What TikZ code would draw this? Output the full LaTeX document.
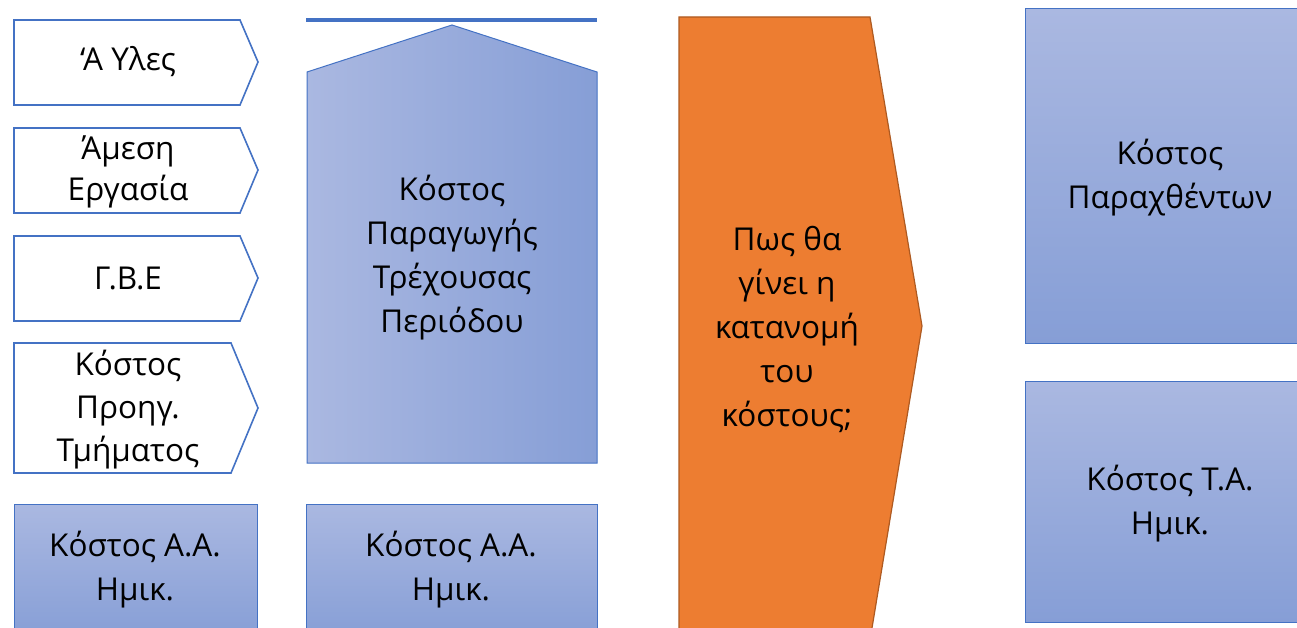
\documentclass[tikz,border=0pt]{standalone}
\usepackage{fontspec}
\setmainfont{Open Sans}
\definecolor{bborder}{RGB}{68,114,196}
\definecolor{blight}{RGB}{170,184,225}
\definecolor{bdark}{RGB}{134,158,214}
\definecolor{orfill}{RGB}{237,125,49}
\definecolor{orborder}{RGB}{174,90,33}
\tikzset{
  whitechev/.style={draw=bborder, line width=1.6pt, fill=white},
  vbox/.style={draw=bborder, line width=1pt, top color=blight, bottom color=bdark},
  hbox/.style={draw=bborder, line width=1pt, left color=blight, right color=bdark},
  orchev/.style={draw=orborder, line width=1.2pt, fill=orfill},
  txt/.style={align=center, font=\fontsize{31.5}{44}\selectfont, text=black, inner sep=0pt}
}
\begin{document}
\begin{tikzpicture}[x=1pt,y=-1pt]
\clip (0,0) rectangle (1297,628);
\fill[white] (0,0) rectangle (1297,628);
% left chevrons
\path[whitechev] (14,20) -- (240,20) -- (258,62) -- (240,105) -- (14,105) -- cycle;
\path[whitechev] (14,128) -- (240,128) -- (258,170) -- (240,213) -- (14,213) -- cycle;
\path[whitechev] (14,236) -- (240,236) -- (258,278) -- (240,321) -- (14,321) -- cycle;
\path[whitechev] (14,343) -- (231,343) -- (258,408) -- (231,473) -- (14,473) -- cycle;
\node[txt] (t1) at (128,62) {‘Α Υλες};
\node[txt, font=\fontsize{31.5}{41}\selectfont] (t2) at (128,172) {Άμεση\\Εργασία};
\node[txt] (t3) at (128,278) {Γ.Β.Ε};
\node[txt, font=\fontsize{31.5}{43}\selectfont] (t4) at (128,410) {Κόστος\\Προηγ.\\Τμήματος};
% bottom boxes
\path[vbox] (14,504) rectangle (257,640);
\node[txt] (b1) at (135,570) {Κόστος Α.Α.\\Ημικ.};
\path[vbox] (306,504) rectangle (597,640);
\node[txt] (b2) at (451,570) {Κόστος Α.Α.\\Ημικ.};
% top line and up pentagon
\draw[draw=bborder, line width=4pt] (306,20.5) -- (597,20.5);
\path[hbox] (307,72) -- (452,25) -- (597,72) -- (597,463) -- (307,463) -- cycle;
\node[txt] (p) at (452,258) {Κόστος\\Παραγωγής\\Τρέχουσας\\Περιόδου};
% orange chevron
\path[orchev] (679,17) -- (870,17) -- (922,326) -- (870,640) -- (679,640) -- cycle;
\node[txt] (o) at (787,329) {Πως θα\\γίνει η\\κατανομή\\του\\κόστους;};
% right boxes
\path[vbox] (1025,9) rectangle (1305,343);
\node[txt] (r1) at (1170,178) {Κόστος\\Παραχθέντων};
\path[vbox] (1025,381) rectangle (1305,622);
\node[txt] (r2) at (1170,504) {Κόστος Τ.Α.\\Ημικ.};
\end{tikzpicture}
\end{document}
